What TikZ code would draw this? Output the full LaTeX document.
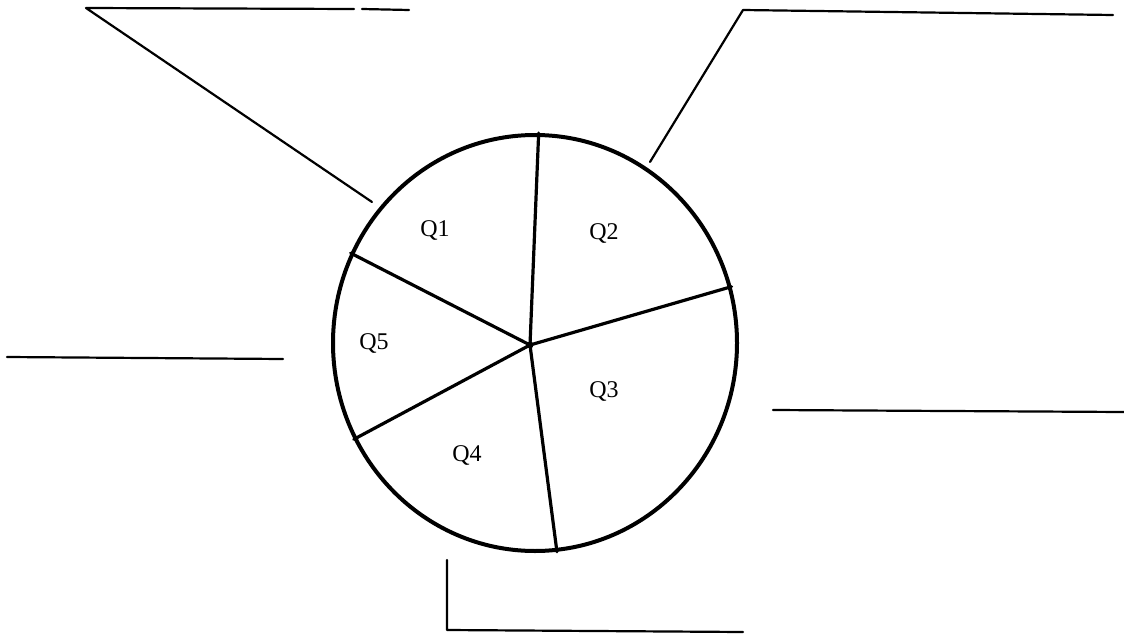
\documentclass[tikz,border=0pt]{standalone}
\usepackage{fontspec}
\setmainfont{Liberation Serif}
\usetikzlibrary{shapes.geometric}
\tikzset{
  rim/.style={ellipse, draw, line width=4pt, minimum width=404pt, minimum height=416pt, inner sep=0pt},
  spoke/.style={line width=3.2pt, line cap=round},
  callout/.style={line width=2.2pt, line cap=round, line join=round},
  qlabel/.style={font=\fontsize{24}{24}\selectfont, inner sep=0pt}
}
\begin{document}
\begin{tikzpicture}[x=1pt,y=-1pt]
\useasboundingbox (0,0) rectangle (1124,634);
\node[rim] (pie) at (535,343) {};
\coordinate (hub) at (530,345);
\draw[spoke] (hub) -- (pie.89);
\draw[spoke] (hub) -- (pie.16.4);
\draw[spoke] (hub) -- (pie.276.4);
\draw[spoke] (hub) -- (pie.208.2);
\draw[spoke] (hub) -- (pie.154.2);
\fill (hub) circle (3.5pt);
\node[qlabel] (q1) at (435,230) {Q1};
\node[qlabel] (q2) at (604,233) {Q2};
\node[qlabel] (q3) at (604,391) {Q3};
\node[qlabel] (q4) at (467,455) {Q4};
\node[qlabel] (q5) at (374,343) {Q5};
% top-left callout
\coordinate (tlA) at (372,202);
\coordinate (tlB) at (86,8);
\coordinate (tlC) at (354,9);
\coordinate (tlD) at (362,9);
\coordinate (tlE) at (409,10);
\draw[callout] (tlA) -- (tlB) -- (tlC);
\draw[callout] (tlD) -- (tlE);
% top-right callout
\coordinate (trA) at (650,162);
\coordinate (trB) at (743,10);
\coordinate (trC) at (1113,15);
\draw[callout] (trA) -- (trB) -- (trC);
% left line
\coordinate (lA) at (7,357);
\coordinate (lB) at (283,359);
\draw[callout] (lA) -- (lB);
% right line
\coordinate (rA) at (773,410);
\coordinate (rB) at (1124,412);
\draw[callout] (rA) -- (rB);
% bottom callout
\coordinate (bA) at (447,560);
\coordinate (bB) at (447,630);
\coordinate (bC) at (743,632);
\draw[callout] (bA) -- (bB) -- (bC);
\end{tikzpicture}
\end{document}
